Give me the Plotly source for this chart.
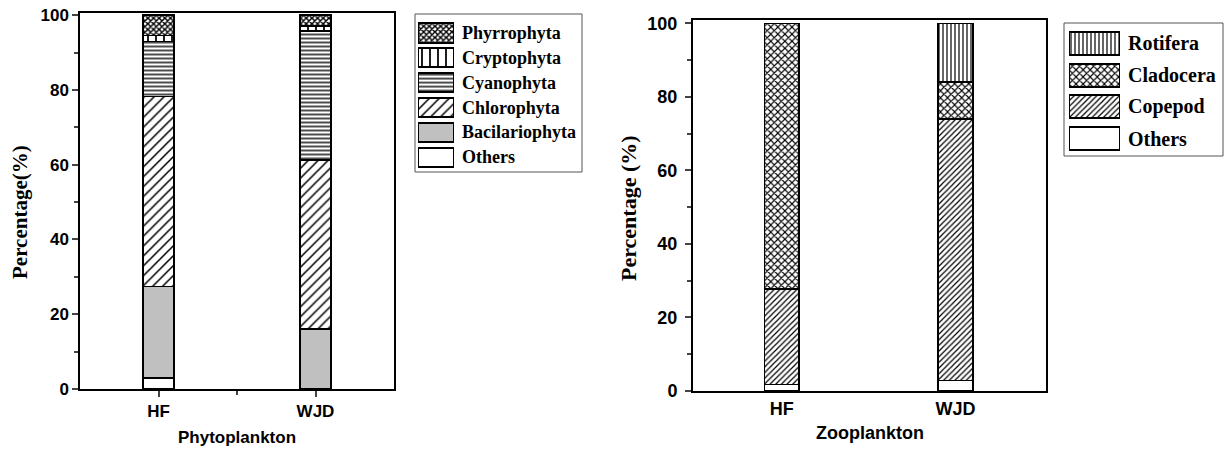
import plotly.graph_objects as go

W, H = 1225, 449

# ---------------- data ----------------
sites = ["HF", "WJD"]

phyto_groups = ["Others", "Bacilariophyta", "Chlorophyta", "Cyanophyta", "Cryptophyta", "Phyrrophyta"]
phyto_others = [3.0, None]
phyto_bacil = [24.4, 16.0]
phyto_chloro = [50.9, 45.2]
phyto_cyano = [14.7, 34.5]
phyto_crypto = [1.6, 1.4]
phyto_phyrro = [5.4, 2.9]

zoo_groups = ["Others", "Copepod", "Cladocera", "Rotifera"]
zoo_others = [1.8, 2.8]
zoo_copepod = [26.0, 71.2]
zoo_cladocera = [72.2, 10.0]
zoo_rotifera = [None, 16.0]

y_ticks = [0, 20, 40, 60, 80, 100]

phyto_values = [phyto_others, phyto_bacil, phyto_chloro, phyto_cyano, phyto_crypto, phyto_phyrro]
zoo_values = [zoo_others, zoo_copepod, zoo_cladocera, zoo_rotifera]

# ---------------- styles ----------------
phyto_style = {
    "Others": dict(color="white"),
    "Bacilariophyta": dict(color="#c0c0c0"),
    "Chlorophyta": dict(color="white", pattern=dict(shape="/", size=7, solidity=0.22)),
    "Cyanophyta": dict(color="white", pattern=dict(shape="-", size=4, solidity=0.35)),
    "Cryptophyta": dict(color="white", pattern=dict(shape="|", size=8, solidity=0.22)),
    "Phyrrophyta": dict(color="white", pattern=dict(shape="x", size=4, solidity=0.6)),
}
zoo_style = {
    "Others": dict(color="white"),
    "Copepod": dict(color="white", pattern=dict(shape="/", size=4, solidity=0.3)),
    "Cladocera": dict(color="white", pattern=dict(shape="x", size=5, solidity=0.4)),
    "Rotifera": dict(color="white", pattern=dict(shape="|", size=4, solidity=0.3)),
}


def marker_for(st, lw):
    m = dict(color=st["color"], line=dict(color="black", width=lw))
    if "pattern" in st:
        p = dict(st["pattern"])
        p.update(fgcolor="black", bgcolor="white", fillmode="replace")
        m["pattern"] = p
    return m


def px_x(p):
    return p / W


def px_y(p):
    return 1 - p / H


SANS = "Liberation Sans"
SERIF = "Liberation Serif"

fig = go.Figure()
xpos = list(range(len(sites)))

# main stacked bars
for name, vals in zip(phyto_groups, phyto_values):
    fig.add_trace(go.Bar(x=xpos, y=vals, name=name, width=0.2,
                         marker=marker_for(phyto_style[name], 1.5),
                         xaxis="x", yaxis="y", showlegend=False, hoverinfo="skip"))
for name, vals in zip(zoo_groups, zoo_values):
    fig.add_trace(go.Bar(x=xpos, y=vals, name=name, width=0.2,
                         marker=marker_for(zoo_style[name], 1.5),
                         xaxis="x2", yaxis="y2", showlegend=False, hoverinfo="skip"))

# custom legend swatches (hidden axes)
leg1 = list(reversed(phyto_groups))
for i, name in enumerate(leg1):
    fig.add_trace(go.Bar(x=[1], y=[i], base=0, orientation="h", width=0.77,
                         marker=marker_for(phyto_style[name], 2),
                         xaxis="x3", yaxis="y3", showlegend=False, hoverinfo="skip"))
leg2 = list(reversed(zoo_groups))
for i, name in enumerate(leg2):
    fig.add_trace(go.Bar(x=[1], y=[i], base=0, orientation="h", width=0.72,
                         marker=marker_for(zoo_style[name], 2),
                         xaxis="x4", yaxis="y4", showlegend=False, hoverinfo="skip"))

annotations = []
for i, name in enumerate(leg1):
    annotations.append(dict(x=1, y=i, xref="x3", yref="y3", text=name, showarrow=False,
                            xanchor="left", yanchor="middle", xshift=6,
                            font=dict(family=SERIF, size=18, color="black", weight="bold")))
for i, name in enumerate(leg2):
    annotations.append(dict(x=1, y=i, xref="x4", yref="y4", text=name, showarrow=False,
                            xanchor="left", yanchor="middle", xshift=6,
                            font=dict(family=SERIF, size=20, color="black", weight="bold")))

# axis titles
annotations += [
    dict(x=px_x(20), y=px_y(212), xref="paper", yref="paper", text="Percentage(%)",
         textangle=-90, showarrow=False, xanchor="center", yanchor="middle",
         font=dict(family=SERIF, size=21, color="black", weight="bold")),
    dict(x=px_x(628), y=px_y(208), xref="paper", yref="paper", text="Percentage (%)",
         textangle=-90, showarrow=False, xanchor="center", yanchor="middle",
         font=dict(family=SERIF, size=22, color="black", weight="bold")),
    dict(x=px_x(237), y=px_y(437), xref="paper", yref="paper", text="Phytoplankton",
         showarrow=False, xanchor="center", yanchor="middle",
         font=dict(family=SANS, size=17, color="black", weight="bold")),
    dict(x=px_x(870), y=px_y(433), xref="paper", yref="paper", text="Zooplankton",
         showarrow=False, xanchor="center", yanchor="middle",
         font=dict(family=SANS, size=18, color="black", weight="bold")),
]

shapes = [
    dict(type="rect", xref="paper", yref="paper", x0=px_x(415), x1=px_x(582),
         y0=px_y(172), y1=px_y(14), line=dict(color="#555", width=1)),
    dict(type="rect", xref="paper", yref="paper", x0=px_x(1064), x1=px_x(1223),
         y0=px_y(156), y1=px_y(23), line=dict(color="#555", width=1)),
]

tick_font1 = dict(family=SANS, size=17, color="black", weight="bold")
tick_font2 = dict(family=SANS, size=18, color="black", weight="bold")

fig.update_layout(
    width=W, height=H, margin=dict(l=0, r=0, t=0, b=0, pad=0, autoexpand=False),
    paper_bgcolor="white", plot_bgcolor="white",
    barmode="stack", showlegend=False,
    annotations=annotations, shapes=shapes,
    xaxis=dict(domain=[px_x(80), px_x(394)], range=[-0.5, 1.5], anchor="y", automargin=False,
               tickvals=xpos, ticktext=sites, ticks="outside", ticklen=6, tickwidth=1.5,
               minor=dict(tickvals=[0.5], ticks="outside", ticklen=4, tickwidth=1.5),
               showline=True, linecolor="black", linewidth=1.5, mirror=True,
               showgrid=False, zeroline=False, tickfont=tick_font1, fixedrange=True),
    yaxis=dict(domain=[px_y(389), px_y(12.5)], range=[0, 100.7], anchor="x", automargin=False,
               tickvals=y_ticks, ticks="outside", ticklen=6, tickwidth=1.5,
               minor=dict(tick0=0, dtick=10, ticks="outside", ticklen=4, tickwidth=1.5),
               showline=True, linecolor="black", linewidth=1.5, mirror=True,
               showgrid=False, zeroline=False, tickfont=tick_font1, fixedrange=True),
    xaxis2=dict(domain=[px_x(693), px_x(1046)], range=[-0.51, 1.52], anchor="y2", automargin=False,
                tickvals=xpos, ticktext=sites, ticks="",
                showline=True, linecolor="black", linewidth=2, mirror=True,
                showgrid=False, zeroline=False, tickfont=tick_font2, fixedrange=True),
    yaxis2=dict(domain=[px_y(391), px_y(20)], range=[0, 100.9], anchor="x2", automargin=False,
                tickvals=y_ticks, ticks="outside", ticklen=6, tickwidth=2, ticklabelstandoff=4,
                minor=dict(tick0=0, dtick=10, ticks="outside", ticklen=4, tickwidth=2),
                showline=True, linecolor="black", linewidth=2, mirror=True,
                showgrid=False, zeroline=False, tickfont=tick_font2, fixedrange=True),
    xaxis3=dict(domain=[px_x(418), px_x(454)], range=[0, 1], anchor="y3", visible=False,
                automargin=False, fixedrange=True),
    yaxis3=dict(domain=[px_y(169.6), px_y(20.6)], range=[5.5, -0.5], anchor="x3", visible=False,
                automargin=False, fixedrange=True),
    xaxis4=dict(domain=[px_x(1069), px_x(1120)], range=[0, 1], anchor="y4", visible=False,
                automargin=False, fixedrange=True),
    yaxis4=dict(domain=[px_y(154.6), px_y(27.4)], range=[3.5, -0.5], anchor="x4", visible=False,
                automargin=False, fixedrange=True),
)

fig.write_html("out.html", config=dict(displayModeBar=False))
